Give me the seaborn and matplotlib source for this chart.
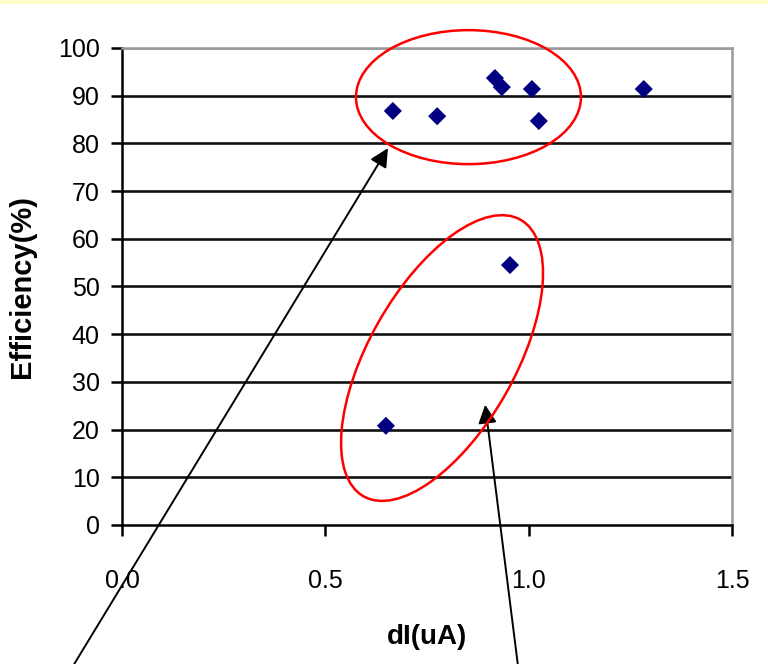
import matplotlib
matplotlib.use("Agg")
import matplotlib.pyplot as plt
import matplotlib.transforms as mtransforms
from matplotlib.patches import Ellipse, Rectangle
import seaborn as sns
import pandas as pd

# data
dI = [0.666, 0.775, 0.917, 0.934, 1.008, 1.025, 1.283, 0.954, 0.649]
efficiency = [86.8, 85.7, 93.7, 91.8, 91.4, 84.7, 91.4, 54.5, 20.8]
x_ticks = [0.0, 0.5, 1.0, 1.5]
x_tick_labels = ["0.0", "0.5", "1.0", "1.5"]
y_ticks = [0, 10, 20, 30, 40, 50, 60, 70, 80, 90, 100]

df = pd.DataFrame({"dI": dI, "eff": efficiency})

sns.set_theme(style="white")
plt.rcParams["font.family"] = ["Liberation Sans", "DejaVu Sans"]
plt.rcParams["text.color"] = "black"
plt.rcParams["axes.labelcolor"] = "black"

W, H = 768, 664
fig = plt.figure(figsize=(W / 100, H / 100), dpi=100)
fig.patch.set_facecolor("white")
fig.add_artist(Rectangle((0, 1 - 4 / H), 1, 4 / H, transform=fig.transFigure,
                         facecolor="#FFFFCC", edgecolor="none"))

ax = fig.add_axes([122 / W, 1 - 525 / H, (732 - 122) / W, (525 - 48) / H])
sns.scatterplot(data=df, x="dI", y="eff", marker="D", color="#000080",
                s=85, edgecolor="none", ax=ax, zorder=5, clip_on=False)

ax.set_xlim(0, 1.5)
ax.set_ylim(0, 100)
ax.set_xticks(x_ticks)
ax.set_xticklabels(x_tick_labels)
ax.set_yticks(y_ticks)

ax.yaxis.grid(True, color="#111111", linewidth=1.9)
ax.xaxis.grid(False)
gl = ax.get_ygridlines()
gl[-1].set_color("#999999")
gl[0].set_visible(False)

for s in ["left", "bottom"]:
    ax.spines[s].set_color("black")
    ax.spines[s].set_linewidth(1.8)
for s in ["top", "right"]:
    ax.spines[s].set_color("#999999")
    ax.spines[s].set_linewidth(1.8)

ax.tick_params(axis="both", which="major", labelsize=18, colors="black",
               direction="out", length=8, width=1.8)
ax.tick_params(axis="x", pad=24, bottom=True)
ax.tick_params(axis="y", pad=8, left=True)

ax.set_xlabel("dI(uA)", fontsize=20, fontweight="bold", labelpad=22,
              color="black")
ax.set_ylabel("Efficiency(%)", fontsize=21, fontweight="bold", labelpad=16,
              color="black")


def pix_ellipse(cx, cy, a_px, b_px, angle):
    tr = (mtransforms.Affine2D().scale(1 / 100.0) + fig.dpi_scale_trans +
          mtransforms.ScaledTranslation(cx, cy, ax.transData))
    e = Ellipse((0, 0), 2 * a_px, 2 * b_px, angle=angle, transform=tr,
                fill=False, edgecolor="#FF0000", linewidth=1.8, clip_on=False,
                zorder=6)
    fig.add_artist(e)


pix_ellipse(0.852, 89.7, 112.5, 67, 0)
pix_ellipse(0.787, 35.0, 159, 73, 60.4)

arrow = dict(arrowstyle="-|>", color="black", lw=1.4, mutation_scale=28,
             shrinkA=0, shrinkB=0)
ax.annotate("", xy=(0.654, 79.0), xycoords="data",
            xytext=(73, -2), textcoords="figure pixels",
            arrowprops=arrow, annotation_clip=False)
ax.annotate("", xy=(0.893, 25.2), xycoords="data",
            xytext=(518, -2), textcoords="figure pixels",
            arrowprops=arrow, annotation_clip=False)

fig.savefig("out.png", dpi=100)
